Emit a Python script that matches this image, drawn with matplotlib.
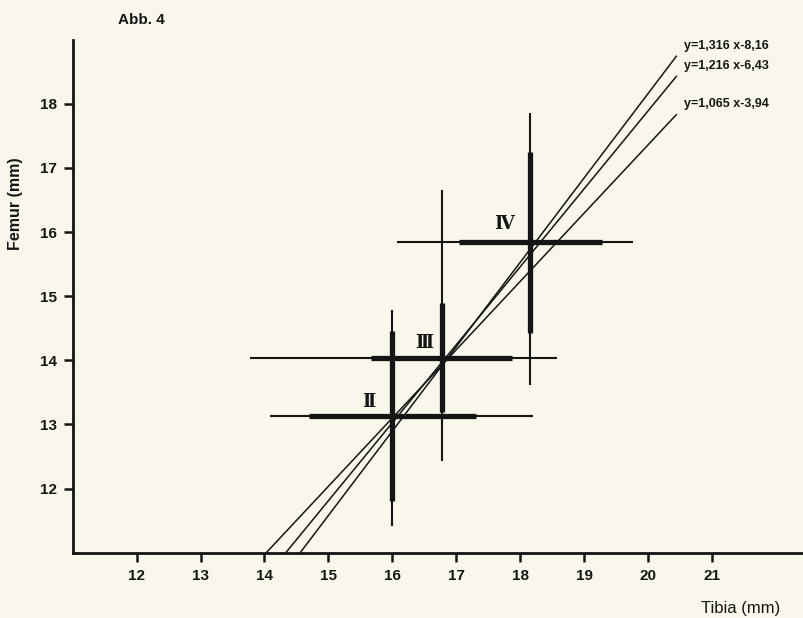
import numpy as np
import matplotlib
matplotlib.use("Agg")
import matplotlib.pyplot as plt

# ---- data ----
groups = ["Ⅱ", "Ⅲ", "Ⅳ"]
tibia_mean = [16.00, 16.77, 18.16]
tibia_sd = [1.31, 1.11, 1.12]
tibia_min = [14.09, 13.78, 16.08]
tibia_max = [18.20, 18.58, 19.76]
femur_mean = [13.13, 14.04, 15.84]
femur_sd = [1.32, 0.85, 1.41]
femur_min = [11.42, 12.43, 13.62]
femur_max = [14.78, 16.65, 17.86]

slopes = [1.316, 1.216, 1.065]
intercepts = [-8.16, -6.43, -3.94]
eq_labels = ["y=1,316 x-8,16", "y=1,216 x-6,43", "y=1,065 x-3,94"]

x_ticks = [12, 13, 14, 15, 16, 17, 18, 19, 20, 21]
y_ticks = [12, 13, 14, 15, 16, 17, 18]

# ---- styling ----
bg = "#f9f7ec"
ink = "#151515"
fig = plt.figure(figsize=(8.04, 6.18), dpi=100, facecolor=bg)
ax = fig.add_axes([0.0904, 0.1057, 0.9096, 0.830])
ax.set_facecolor(bg)
ax.set_xlim(11, 22.44)
ax.set_ylim(11, 19)

for s in ["top", "right"]:
    ax.spines[s].set_visible(False)
for s in ["left", "bottom"]:
    ax.spines[s].set_linewidth(2.0)
    ax.spines[s].set_color(ink)

ax.set_xticks(x_ticks)
ax.set_yticks(y_ticks)
ax.tick_params(direction="out", length=6.5, width=1.8, color=ink, pad=5)
for lab in ax.get_xticklabels() + ax.get_yticklabels():
    lab.set_fontfamily("Liberation Sans")
    lab.set_fontweight("bold")
    lab.set_fontsize(11)
    lab.set_color(ink)

# regression lines
x_end = 20.45
for m, b, lab in zip(slopes, intercepts, eq_labels):
    x0 = (11 - b) / m
    xs = np.array([x0, x_end])
    ax.plot(xs, m * xs + b, color=ink, lw=1.1, solid_capstyle="butt", clip_on=False)
    ax.annotate(lab, (x_end, m * x_end + b), xytext=(5, 7), textcoords="offset points",
                fontsize=9, fontweight="bold", family="Liberation Sans", color=ink,
                va="center", ha="left", annotation_clip=False)

# crosses: thin = range, thick = mean +/- sd
label_offsets = [(-0.37, 0.22), (-0.27, 0.23), (-0.41, 0.28)]
for i, g in enumerate(groups):
    tm, fm = tibia_mean[i], femur_mean[i]
    ax.plot([tibia_min[i], tibia_max[i]], [fm, fm], color=ink, lw=1.5, solid_capstyle="butt")
    ax.plot([tm, tm], [femur_min[i], femur_max[i]], color=ink, lw=1.5, solid_capstyle="butt")
    ax.plot([tm - tibia_sd[i], tm + tibia_sd[i]], [fm, fm], color=ink, lw=3.8, solid_capstyle="butt")
    ax.plot([tm, tm], [fm - femur_sd[i], fm + femur_sd[i]], color=ink, lw=3.8, solid_capstyle="butt")
    dx, dy = label_offsets[i]
    ax.text(tm + dx, fm + dy, g, fontsize=13, fontweight="bold",
            family=["DejaVu Serif", "DejaVu Sans"], color=ink, ha="center", va="center")

fig.text(0.147, 0.967, "Abb. 4", fontsize=11, fontweight="bold", family="Liberation Sans",
         color=ink, ha="left", va="center")
fig.text(0.019, 0.67, "Femur (mm)", fontsize=11.5, fontweight="bold", family="Liberation Sans",
         color=ink, rotation=90, ha="center", va="center")
fig.text(0.872, 0.016, "Tibia (mm)", fontsize=12, family="Liberation Sans",
         color=ink, ha="left", va="center")

fig.savefig("out.png", dpi=100, facecolor=bg)
